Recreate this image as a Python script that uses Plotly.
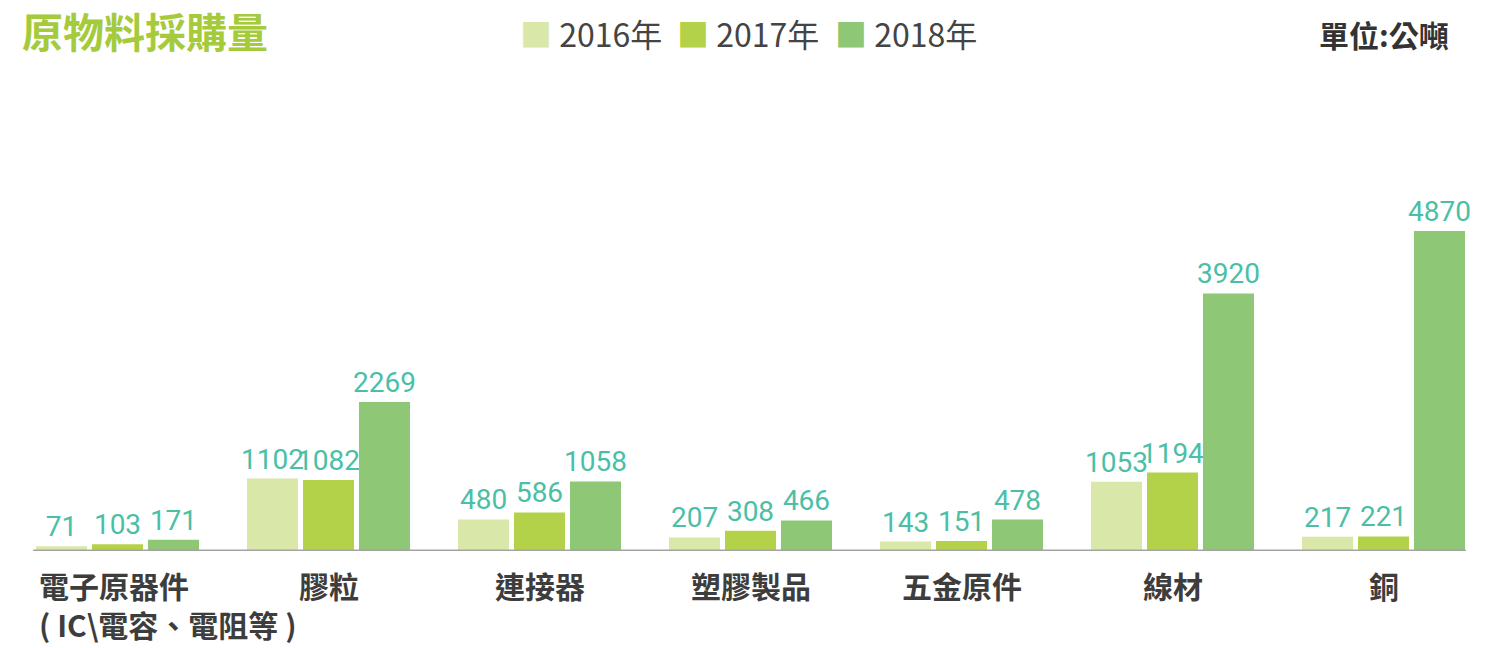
import plotly.graph_objects as go

categories = ["電子原器件", "膠粒", "連接器", "塑膠製品", "五金原件", "線材", "銅"]
category_labels = ["電子原器件<br>( IC\\電容、電阻等 )", "膠粒", "連接器", "塑膠製品", "五金原件", "線材", "銅"]
years = ["2016年", "2017年", "2018年"]
v2016 = [71, 1102, 480, 207, 143, 1053, 217]
v2017 = [103, 1082, 586, 308, 151, 1194, 221]
v2018 = [171, 2269, 1058, 466, 478, 3920, 4870]
colors = ["#d9e8a9", "#b4d249", "#8ec776"]

OFF = 8  # default page body margin
W, H = 1497 - OFF, 648 - OFF
ml, mr, mt, mb = 4, 8, 62, 97
pw = W - ml - mr
ph = H - mt - mb
px_per_unit = 320 / 4870
ymax = ph / px_per_unit

def px2paper_x(px):
    return (px - OFF - ml) / pw

def px2paper_y(py):
    return (H - mb - (py - OFF)) / ph

label_font = dict(family="Roboto, Noto Sans", size=28, color="#4bbfa6")
cat_font = dict(family="Noto Sans CJK TC", size=30, color="#3d3d3d", weight="bold")

fig = go.Figure()
for name, vals, col in zip(years, [v2016, v2017, v2018], colors):
    fig.add_trace(go.Bar(
        x=categories, y=vals, name=name, marker=dict(color=col, line=dict(width=0)),
        text=[str(v) for v in vals], textposition="outside", textfont=label_font,
        constraintext="none", cliponaxis=False, showlegend=False,
    ))

annotations = []
for i, (c, lab) in enumerate(zip(categories, category_labels)):
    if i == 0:
        annotations.append(dict(x=c, y=0, xref="x", yref="y", text=lab, showarrow=False,
                                xanchor="left", yanchor="top", align="left", xshift=-81, yshift=-10,
                                font=cat_font))
    else:
        annotations.append(dict(x=c, y=0, xref="x", yref="y", text=lab, showarrow=False,
                                xanchor="center", yanchor="top", yshift=-10,
                                font=cat_font))

legend_x = [518, 675, 833]
for lx, name, col in zip(legend_x, years, colors):
    annotations.append(dict(x=px2paper_x(lx), y=px2paper_y(33), xref="paper", yref="paper",
                            text=f"<span style='color:{col}'>■</span> {name}", showarrow=False,
                            xanchor="left", yanchor="middle",
                            font=dict(family="Noto Sans CJK TC", size=32, color="#444444")))

annotations.append(dict(x=px2paper_x(1451), y=px2paper_y(34), xref="paper", yref="paper",
                        text="單位:公噸", showarrow=False, xanchor="right", yanchor="middle",
                        font=dict(family="Noto Sans CJK TC", size=30, color="#333333", weight="bold")))

fig.update_layout(
    width=W, height=H,
    margin=dict(l=ml, r=mr, t=mt, b=mb),
    paper_bgcolor="white", plot_bgcolor="white",
    barmode="group", bargap=0.204, bargroupgap=0.089,
    title=dict(text="原物料採購量", x=14 / W, xanchor="left", y=1 - 26 / H, yanchor="middle",
               font=dict(family="Noto Sans CJK TC", size=41, color="#a5cb3c", weight="bold")),
    xaxis=dict(showticklabels=False, showgrid=False, zeroline=False, showline=False, ticks=""),
    yaxis=dict(range=[0, ymax], visible=False, showgrid=False, zeroline=False),
    annotations=annotations,
    shapes=[dict(type="line", xref="x", yref="y", x0=-0.4, x1=6.39, y0=0, y1=0,
                 line=dict(color="#a3a3a3", width=3), layer="above")],
)

fig.write_html("out.html")
